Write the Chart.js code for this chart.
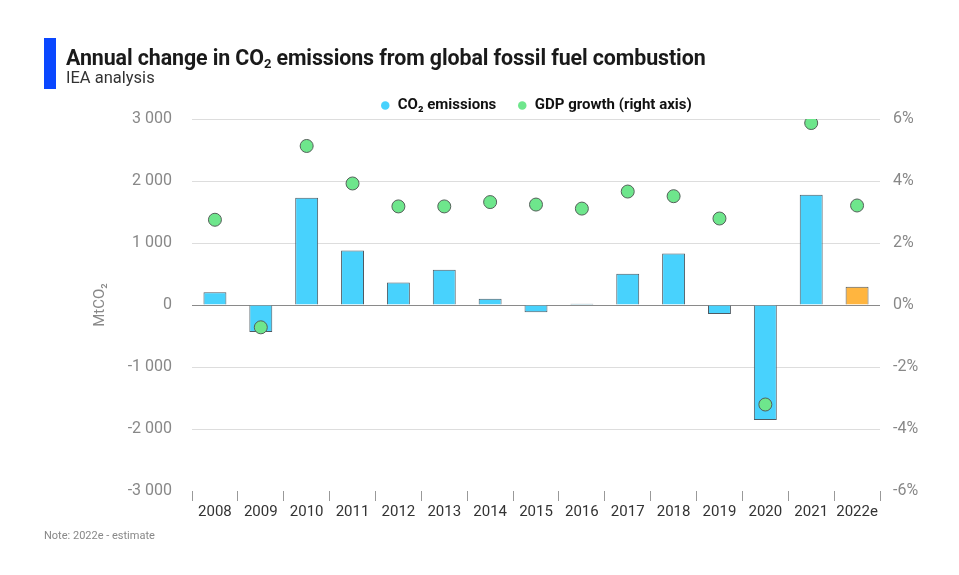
<!DOCTYPE html>
<html lang="en">
<head>
  <meta charset="UTF-8">
  <title>Annual change in CO2 emissions</title>
  <script src="https://cdn.jsdelivr.net/npm/chart.js"></script>
  <style>
    body { margin: 0; background: #fff; font-family: Roboto, "Noto Sans", sans-serif; }
    #wrap { position: relative; width: 959px; height: 575px; overflow: hidden; }
    #chart { position: absolute; left: 0; top: 0; }
    .bar { position: absolute; left: 44px; top: 38px; width: 12px; height: 51px; background: #0a47ff; }
    .title { position: absolute; left: 66px; top: 45px; font-size: 21.4px; font-weight: 700; color: #1a1a1a; white-space: nowrap; letter-spacing: -0.1px; }
    .title sub { font-size: 13px; vertical-align: -3px; line-height: 0; }
    .subtitle { position: absolute; left: 66px; top: 68px; font-size: 16.5px; color: #333; }
    .note { position: absolute; left: 44px; top: 529px; font-size: 11px; color: #888; }
  </style>
</head>
<body>
  <div id="wrap">
    <canvas id="chart" width="959" height="575"></canvas>
    <div class="bar"></div>
    <div class="title">Annual change in CO<sub>2</sub> emissions from global fossil fuel combustion</div>
    <div class="subtitle">IEA analysis</div>
    <div class="note">Note: 2022e - estimate</div>
  </div>

  <script>
    // data
    const years = ["2008", "2009", "2010", "2011", "2012", "2013", "2014", "2015",
                   "2016", "2017", "2018", "2019", "2020", "2021", "2022e"];
    const co2Change = [205, -435, 1730, 878, 362, 570, 100, -115, 20, 505, 830, -145, -1855, 1780, 295];
    const gdpGrowth = [2.75, -0.72, 5.13, 3.92, 3.18, 3.18, 3.32, 3.24, 3.11, 3.66, 3.51, 2.79, -3.21, 5.87, 3.21];
    const leftTicks = [-3000, -2000, -1000, 0, 1000, 2000, 3000];
    const rightTicks = [-6, -4, -2, 0, 2, 4, 6];

    const barColors = years.map(y => y.endsWith("e") ? "#ffb53f" : "#48d2fd");

    function spaced(v) {
      const s = Math.abs(v).toString().replace(/\B(?=(\d{3})+(?!\d))/g, " ");
      return (v < 0 ? "-" : "") + s;
    }

    // legend sits closer to the plot than chart.js leaves by default
    const legendTrim = {
      id: "legendTrim",
      beforeInit(chart) {
        const fit = chart.legend.fit;
        chart.legend.fit = function () {
          fit.bind(chart.legend)();
          this.height -= 4;
        };
      }
    };

    const ctx = document.getElementById("chart").getContext("2d");
    new Chart(ctx, {
      data: {
        labels: years,
        datasets: [
          {
            type: "bar",
            label: "CO₂ emissions",
            data: co2Change,
            backgroundColor: barColors,
            borderColor: "#4f5a62",
            borderWidth: 1,
            categoryPercentage: 1,
            barPercentage: 0.5,
            yAxisID: "y",
            order: 2
          },
          {
            type: "line",
            label: "GDP growth (right axis)",
            data: gdpGrowth,
            showLine: false,
            pointRadius: 6.5,
            pointHoverRadius: 6.5,
            pointBackgroundColor: "#6ee68c",
            pointBorderColor: "#55605a",
            pointBorderWidth: 1,
            backgroundColor: "#6ee68c",
            borderColor: "#6ee68c",
            yAxisID: "y2",
            order: 1
          }
        ]
      },
      plugins: [legendTrim],
      options: {
        responsive: false,
        animation: false,
        layout: { padding: { top: 77, left: 85, right: 0, bottom: 52 } },
        plugins: {
          tooltip: { enabled: false },
          legend: {
            position: "top",
            fullSize: false,
            labels: {
              usePointStyle: true,
              boxWidth: 10,
              boxHeight: 6,
              padding: 21,
              color: "#111",
              font: { family: "Roboto", size: 15, weight: "bold" },
              sort: (a, b) => a.datasetIndex - b.datasetIndex,
              generateLabels(chart) {
                return Chart.defaults.plugins.legend.labels.generateLabels(chart).map(item => {
                  item.lineWidth = 0;
                  item.strokeStyle = "rgba(0,0,0,0)";
                  item.fillStyle = item.datasetIndex === 0 ? "#48d2fd" : "#6ee68c";
                  return item;
                });
              }
            }
          }
        },
        scales: {
          x: {
            grid: {
              offset: true,
              drawOnChartArea: false,
              drawTicks: true,
              tickLength: 10,
              color: "#999"
            },
            border: { display: false },
            ticks: {
              color: "#333",
              padding: 2,
              maxRotation: 0,
              minRotation: 0,
              autoSkip: false,
              font: { family: "Roboto", size: 15 }
            }
          },
          y: {
            position: "left",
            min: leftTicks[0],
            max: leftTicks[leftTicks.length - 1],
            afterBuildTicks(scale) { scale.ticks = leftTicks.map(v => ({ value: v })); },
            afterFit(scale) { scale.width = 192 - 85; },
            grid: {
              drawTicks: false,
              color: c => c.tick.value === 0 ? "#8a8a8a" : (c.tick.value === -3000 ? "rgba(0,0,0,0)" : "#dddddd")
            },
            border: { display: false },
            ticks: {
              color: "#888",
              padding: 20,
              font: { family: "Roboto", size: 16 },
              callback: v => spaced(v)
            },
            title: {
              display: true,
              text: "MtCO₂",
              color: "#888",
              padding: { top: 6, bottom: 0 },
              font: { family: "Roboto", size: 15 }
            }
          },
          y2: {
            position: "right",
            min: rightTicks[0],
            max: rightTicks[rightTicks.length - 1],
            afterBuildTicks(scale) { scale.ticks = rightTicks.map(v => ({ value: v })); },
            afterFit(scale) { scale.width = 959 - 880; },
            grid: { drawOnChartArea: false, drawTicks: false },
            border: { display: false },
            ticks: {
              color: "#888",
              padding: 13,
              font: { family: "Roboto", size: 16 },
              callback: v => v + "%"
            }
          }
        }
      }
    });
  </script>
</body>
</html>
